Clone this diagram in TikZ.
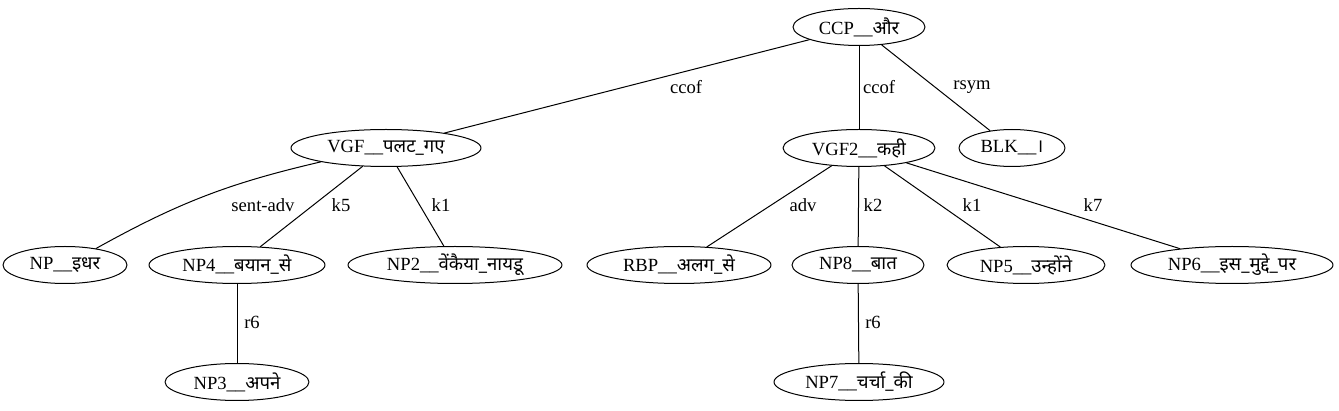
\documentclass[tikz,border=0pt]{standalone}
\usepackage{fontspec}
\setmainfont{Liberation Serif}
\newfontfamily\deva[Script=Devanagari,Scale=1.0]{Noto Sans}
\usetikzlibrary{shapes.geometric}
\tikzset{
  dep tree/.style={x=1pt, y=-1pt, font=\fontsize{18.6}{21}\selectfont,
    line cap=round, line join=round},
  dep node/.style={ellipse, draw=black, line width=1pt, inner sep=0pt,
    minimum height=37pt},
  dep edge/.style={draw=black, line width=1pt},
  dep label/.style={inner sep=1pt}
}

\begin{document}
\begin{tikzpicture}[dep tree]
\useasboundingbox (0,0) rectangle (1339,411);
% chunks
\foreach \name/\x/\y/\w/\tag/\word in {
  ccp/859/27/132/CCP/{और},
  vgf/386/148/190/VGF/{पलट\_गए},
  vgf2/859/148/152/VGF2/{कही},
  blk/1012/148/106/BLK/{।},
  np/65/265/124/NP/{इधर},
  np4/237/265/176/NP4/{बयान\_से},
  np2/455/265/214/NP2/{वेंकैया\_नायडू},
  rbp/679/265/184/RBP/{अलग\_से},
  np8/858/265/132/NP8/{बात},
  np5/1026/265/158/NP5/{उन्होंने},
  np6/1232/265/202/NP6/{इस\_मुद्दे\_पर},
  np3/237/382/144/NP3/{अपने},
  np7/859/382/170/NP7/{चर्चा\_की}}{
 \node[dep node, minimum width=\w pt] (\name) at (\x,\y) {\tag\_\_{\deva\word}};
}
% relations
\draw[dep edge] (vgf) to[bend right=8] (np);
\node[dep label] (l-vgf-np) at (263,205) {sent-adv};
\foreach \a/\b/\lx/\ly/\rel in {
  ccp/vgf/686/87/ccof, ccp/vgf2/879/87/ccof, ccp/blk/972/87/rsym,
  vgf/np4/341/205/k5, vgf/np2/441/205/k1, np4/np3/252/322/r6,
  vgf2/rbp/803/205/adv, vgf2/np8/873/205/k2, vgf2/np5/972/205/k1,
  vgf2/np6/1093/205/k7, np8/np7/873/322/r6}{
 \draw[dep edge] (\a) -- (\b);
 \node[dep label] (l-\a-\b) at (\lx,\ly) {\rel};
}
\end{tikzpicture}
\end{document}
